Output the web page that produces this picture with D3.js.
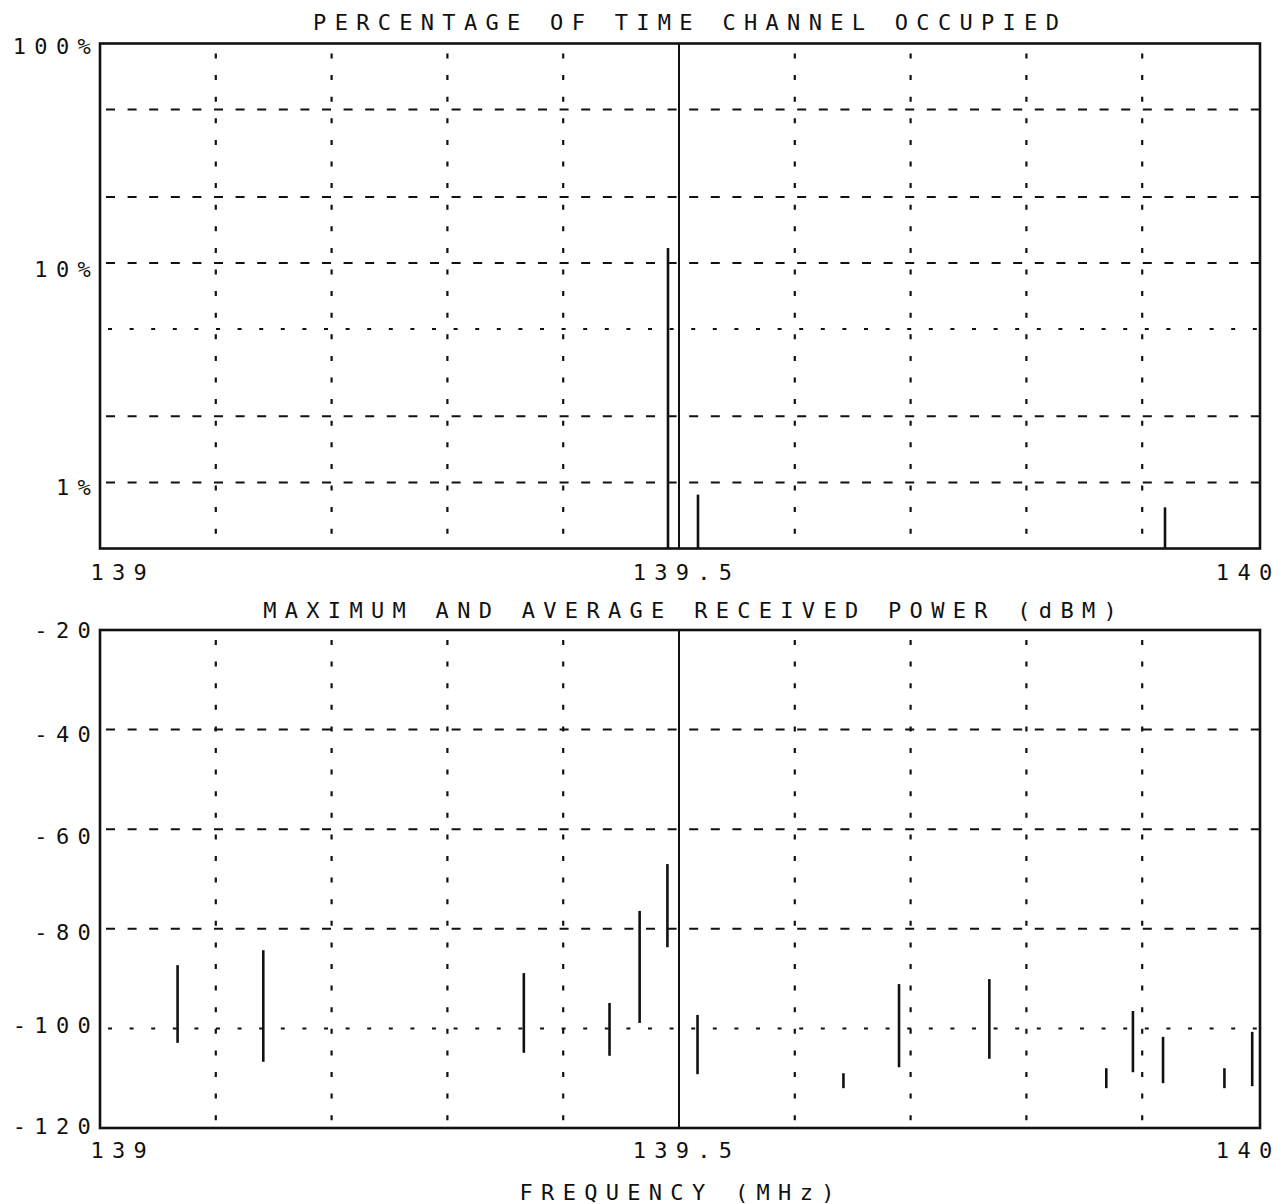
<!DOCTYPE html>
<html><head><meta charset="utf-8">
<script src="https://cdn.jsdelivr.net/npm/d3@7"></script>
<style>body{margin:0;background:#fff}svg{display:block}</style>
</head><body><svg id="c" width="1281" height="1204"></svg>
<script>
// ---- data ----
const occFreq = [139.4905, 139.5164, 139.9197];
const occPct  = [11.7, 0.88, 0.77];

const pwrFreq = [139.067, 139.141, 139.366, 139.440, 139.466, 139.490, 139.516, 139.642,
                 139.690, 139.768, 139.869, 139.892, 139.918, 139.971, 139.995];
const pwrMax  = [-87.3, -84.3, -88.9, -94.9, -76.4, -67.0, -97.3, -109.0,
                 -91.1, -90.1, -108.0, -96.5, -101.7, -108.0, -100.7];
const pwrAvg  = [-102.9, -106.7, -104.9, -105.5, -98.9, -83.7, -109.2, -112.0,
                 -107.8, -106.1, -112.0, -108.8, -111.0, -112.0, -111.6];

const freqTicks = [139, 139.5, 140];
const freqTickLabels = ["139", "139.5", "140"];
const freqGridDotted = [139.1, 139.2, 139.3, 139.4, 139.6, 139.7, 139.8, 139.9];
const freqGridSolid = [139.5];

const occTicks = [100, 10, 1];
const occTickLabels = ["100%", "10%", "1%"];
const occGridDashed = [50, 20, 10, 2, 1];
const occGridDotted = [5];

const pwrTicks = [-20, -40, -60, -80, -100, -120];
const pwrGridDashed = [-40, -60, -80];
const pwrGridDotted = [-100];

const title1 = "PERCENTAGE OF TIME CHANNEL OCCUPIED";
const title2 = "MAXIMUM AND AVERAGE RECEIVED POWER (dBM)";
const xTitle = "FREQUENCY (MHz)";

// ---- setup ----
const FONT = "'DejaVu Sans Mono', 'Liberation Mono', monospace";
const FS = 22, LS = 8.3;
const svg = d3.select("#c");
svg.append("rect").attr("width",1281).attr("height",1204).attr("fill","#fff");

const x = d3.scaleLinear().domain([139, 140]).range([100, 1258]);
const yTop = d3.scaleLog().domain([0.5, 100]).range([548.5, 43.5]);
const yBot = d3.scaleLinear().domain([-120, -20]).range([1128, 630]);

function styleText(sel){
  sel.attr("font-family", FONT).attr("font-size", FS).attr("letter-spacing", LS)
     .attr("fill", "#111");
}

function panel(y, yDomainTop, yDomainBot, dashedH, dottedH){
  const g = svg.append("g");
  const x0 = x(139), x1 = x(140) + 2, yt = y(yDomainTop), yb = y(yDomainBot);
  g.selectAll(".hd").data(dashedH).join("line")
    .attr("x1", x0).attr("x2", x1).attr("y1", d => y(d)).attr("y2", d => y(d))
    .attr("stroke", "#111").attr("stroke-width", 2).attr("stroke-dasharray", "9,12.6")
    .attr("stroke-dashoffset", -6);
  g.selectAll(".ht").data(dottedH).join("line")
    .attr("x1", x0).attr("x2", x1).attr("y1", d => y(d)).attr("y2", d => y(d))
    .attr("stroke", "#111").attr("stroke-width", 2).attr("stroke-dasharray", "4,17.6")
    .attr("stroke-dashoffset", -8);
  g.selectAll(".vd").data(freqGridDotted).join("line")
    .attr("x1", d => x(d)).attr("x2", d => x(d)).attr("y1", yt).attr("y2", yb)
    .attr("stroke", "#111").attr("stroke-width", 2.2).attr("stroke-dasharray", "5,16.6")
    .attr("stroke-dashoffset", -10);
  g.selectAll(".vs").data(freqGridSolid).join("line")
    .attr("x1", d => x(d)).attr("x2", d => x(d)).attr("y1", yt).attr("y2", yb)
    .attr("stroke", "#111").attr("stroke-width", 2);
  g.append("rect").attr("x", x0).attr("y", yt).attr("width", x1 - x0).attr("height", yb - yt)
    .attr("fill", "none").attr("stroke", "#111").attr("stroke-width", 2.6);
  return g;
}

// ---- top panel ----
const gTop = panel(yTop, 100, 0.5, occGridDashed, occGridDotted);
gTop.selectAll(".bar").data(occFreq).join("line")
  .attr("x1", d => x(d)).attr("x2", d => x(d))
  .attr("y1", yTop(0.5)).attr("y2", (d, i) => yTop(occPct[i]))
  .attr("stroke", "#111").attr("stroke-width", 2.6);

// ---- bottom panel ----
const gBot = panel(yBot, -20, -120, pwrGridDashed, pwrGridDotted);
gBot.selectAll(".bar").data(pwrFreq).join("line")
  .attr("x1", d => x(d)).attr("x2", d => x(d))
  .attr("y1", (d, i) => yBot(pwrMax[i])).attr("y2", (d, i) => yBot(pwrAvg[i]))
  .attr("stroke", "#111").attr("stroke-width", 2.6);

// ---- axes (labels only) ----
function yAxis(scale, ticks, labels, dyPx){
  const ax = d3.axisLeft(scale).tickValues(ticks)
    .tickFormat((d, i) => labels[i]).tickSize(0).tickPadding(0);
  const g = svg.append("g").attr("transform", "translate(99,0)").call(ax);
  g.select(".domain").remove();
  g.selectAll("text").call(styleText).attr("dy", "0.36em")
    .attr("transform", (d, i) => `translate(0,${dyPx[i]})`);
}
yAxis(yTop, occTicks, occTickLabels, [2, 6, 4]);
yAxis(yBot, pwrTicks, pwrTicks.map(String), [0, 4, 6, 3, -4, -2]);

function xAxis(yPos){
  const ax = d3.axisBottom(x).tickValues(freqTicks)
    .tickFormat((d, i) => freqTickLabels[i]).tickSize(0).tickPadding(0);
  const g = svg.append("g").attr("transform", `translate(0,${yPos})`).call(ax);
  g.select(".domain").remove();
  g.selectAll("text").call(styleText).attr("y", 0).attr("dy", "0.36em")
    .attr("text-anchor", (d, i) => i === 0 ? "start" : (i === freqTicks.length - 1 ? "end" : "middle"))
    .attr("dx", (d, i) => i === 0 ? -10 : (i === freqTicks.length - 1 ? 22 : 7));
}
xAxis(572);
xAxis(1150);

// ---- titles ----
function title(txt, cx, cy){
  svg.append("text").text(txt).call(styleText)
    .attr("x", cx + LS / 2).attr("y", cy).attr("dy", "0.36em").attr("text-anchor", "middle");
}
title(title1, 686, 22);
title(title2, 690, 610);
title(xTitle, 677, 1192);
</script></body></html>
